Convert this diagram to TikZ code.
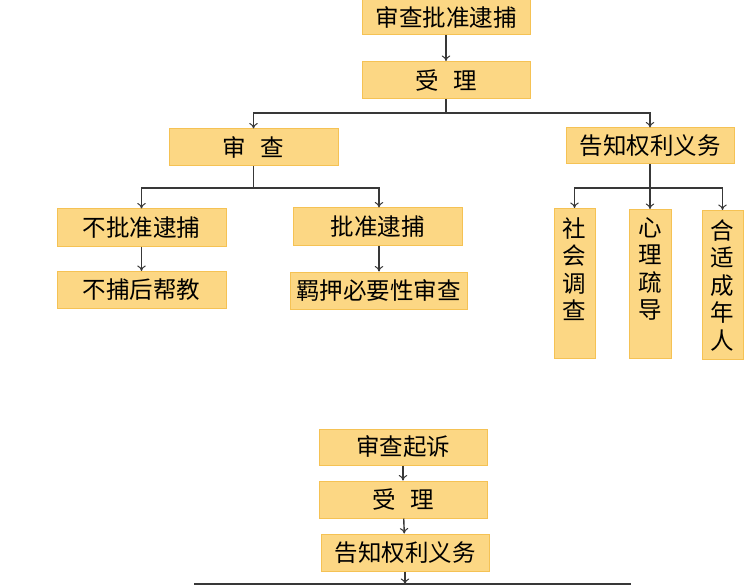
\documentclass[tikz,border=0pt]{standalone}
\usepackage{fontspec}
\newfontfamily\cjk{Noto Sans CJK SC}
\usetikzlibrary{arrows.meta}
\definecolor{boxfill}{HTML}{FCD784}
\definecolor{boxline}{HTML}{F5C254}
\definecolor{linec}{HTML}{383838}
\tikzset{
  box/.style={rectangle, draw=boxline, fill=boxfill, line width=1pt, inner sep=0pt,
    font=\cjk\fontsize{23.5}{27.5}\selectfont, align=center, text=black},
  vtext/.style={anchor=north, font=\cjk\fontsize{23.5}{27.5}\selectfont, align=center, inner sep=0pt, text=black},
  conn/.style={draw=linec, line width=1.4pt},
  arr/.style={conn, -{To[length=5.5pt,width=8.5pt,line width=1pt]}}
}
\begin{document}
\begin{tikzpicture}[x=1pt,y=-1pt]
\useasboundingbox (0,0) rectangle (751,585);
% top section
\node[box, minimum width=168pt, minimum height=35pt] (n1) at (446,17) {审查批准逮捕};
\node[box, minimum width=168pt, minimum height=37pt] (n2) at (446,80) {受\hspace{0.6em}理};
\node[box, minimum width=169pt, minimum height=37pt] (n3) at (253.5,147.5) {审\hspace{0.6em}查};
\node[box, minimum width=168pt, minimum height=36pt] (n4) at (650,146) {告知权利义务};
\node[box, minimum width=169pt, minimum height=37pt] (n5) at (141.5,227.5) {不批准逮捕};
\node[box, minimum width=169pt, minimum height=37pt] (n6) at (377.5,226.5) {批准逮捕};
\node[box, minimum width=169pt, minimum height=37pt] (n7) at (141.5,290) {不捕后帮教};
\node[box, minimum width=177pt, minimum height=37pt] (n8) at (378.5,290.5) {羁押必要性审查};
\node[box, minimum width=41pt, minimum height=150pt, anchor=north] (n9) at (574.5,208) {};
\node[vtext] (t9) at (574.5,217) {社\\会\\调\\查};
\node[box, minimum width=42pt, minimum height=149pt, anchor=north] (n10) at (650,209) {};
\node[vtext] (t10) at (650,217) {心\\理\\疏\\导};
\node[box, minimum width=41pt, minimum height=149pt, anchor=north] (n11) at (722.5,210) {};
\node[vtext] (t11) at (722.5,219) {合\\适\\成\\年\\人};
% bottom section
\node[box, minimum width=168pt, minimum height=36pt] (n12) at (403,447) {审查起诉};
\node[box, minimum width=168pt, minimum height=37pt] (n13) at (403,499.5) {受\hspace{0.6em}理};
\node[box, minimum width=168pt, minimum height=37pt] (n14) at (405,552.5) {告知权利义务};
% connectors top
\draw[arr] (n1) -- (n2);
\coordinate (j1) at (446,113);
\draw[conn] (n2) -- (j1);
\draw[arr] (j1) -| (n3.north);
\draw[arr] (j1) -| (n4.north);
\coordinate (j2) at (253.5,188);
\draw[conn] (n3) -- (j2);
\draw[arr] (j2) -| (n5.north);
\draw[arr] (j2) -| ([xshift=1.5pt]n6.north);
\draw[arr] (n5) -- (n7);
\draw[arr] ([xshift=1.5pt]n6.south) -- ([xshift=0.5pt]n8.north);
\coordinate (j4) at (650,188);
\draw[conn] (n4) -- (j4);
\draw[arr] (j4) -| (n9.north);
\draw[arr] (j4) -- (n10.north);
\draw[arr] (j4) -| (n11.north);
% connectors bottom
\draw[arr] (n12) -- (n13);
\draw[arr] (n13) -- (n14);
\coordinate (j3) at (405,584);
\draw[arr] (n14) -- (j3);
\coordinate (l3) at (194,584);
\coordinate (r3) at (631,584);
\draw[conn] (l3) -- (r3);
\end{tikzpicture}
\end{document}
